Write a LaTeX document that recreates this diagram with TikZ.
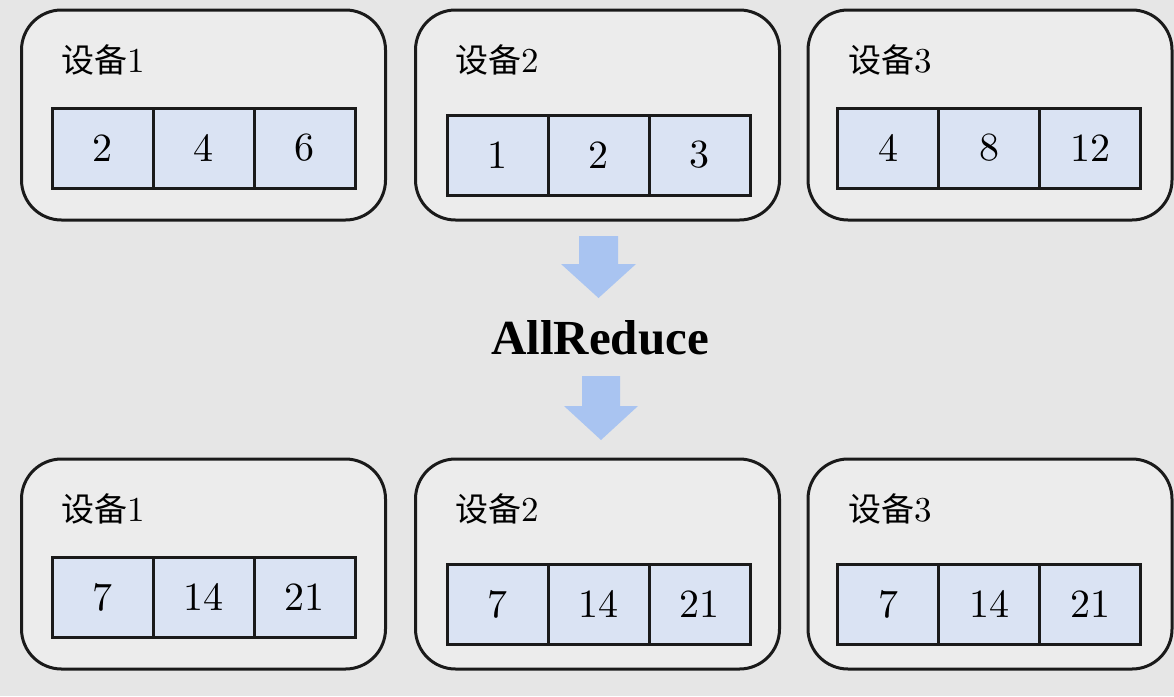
\documentclass[tikz,border=0pt]{standalone}
\usepackage{fontspec}
\newfontfamily\cjk{Noto Sans CJK SC}
\newfontfamily\timesbf{Liberation Serif}
\newfontfamily\numfont{lmroman10-regular.otf}
\usetikzlibrary{positioning,calc}
\definecolor{bggray}{HTML}{E6E6E6}
\definecolor{boxgray}{HTML}{ECECEC}
\definecolor{cellblue}{HTML}{DAE3F3}
\definecolor{arrowblue}{HTML}{A9C4F1}
\definecolor{linegray}{HTML}{1A1A1A}

\begin{document}
\begin{tikzpicture}[x=1pt,y=-1pt,
    device/.style={draw=linegray, line width=3pt, fill=boxgray, rounded corners=40pt,
      minimum width=364pt, minimum height=210pt, inner sep=0pt, outer sep=0pt},
    cell/.style={draw=linegray, line width=3pt, fill=cellblue, minimum width=101pt,
      minimum height=80pt, inner sep=0pt, outer sep=0pt, font=\numfont\fontsize{40}{40}\selectfont},
    devlabel/.style={anchor=west, inner sep=0pt, font=\numfont\fontsize{35}{35}\selectfont},
    flowarrow/.style={fill=arrowblue}]
  \fill[bggray] (0,0) rectangle (1174,696);

  % devices before and after
  \foreach \n/\x/\y/\dx/\dy/\k/\a/\b/\c in {
      top1/203.5/115/30.5/33/1/2/4/6, top2/597.5/115/31.5/40/2/1/2/3,
      top3/990/115/29.5/33/3/4/8/12, bot1/203.5/564/30.5/33/1/7/14/21,
      bot2/597.5/564/31.5/40/2/7/14/21, bot3/990/564/29.5/40/3/7/14/21} {
    \node[device] (\n) at (\x,\y) {};
    \node[devlabel] (\n lab) at ($(\n.north west)+(40,50)$) {{\cjk\fontsize{33}{33}\selectfont 设备}\k};
    \node[cell, anchor=west] (\n a) at ($(\n.west)+(\dx,\dy)$) {\a};
    \node[cell, right=0pt of \n a] (\n b) {\b};
    \node[cell, right=0pt of \n b] (\n c) {\c};
  }

  \node[inner sep=0pt, font=\timesbf\bfseries\fontsize{49}{49}\selectfont] (reduce) at (600,338) {AllReduce};

  % arrows down
  \fill[flowarrow, shift={(598.5,236)}] (-19.5,0) -- (19.5,0) -- (19.5,28) -- (37.5,28)
    -- (0,62) -- (-37.5,28) -- (-19.5,28) -- cycle;
  \fill[flowarrow, shift={(601,376)}] (-19,0) -- (19,0) -- (19,30) -- (37,30)
    -- (0,64) -- (-37,30) -- (-19,30) -- cycle;
\end{tikzpicture}
\end{document}
